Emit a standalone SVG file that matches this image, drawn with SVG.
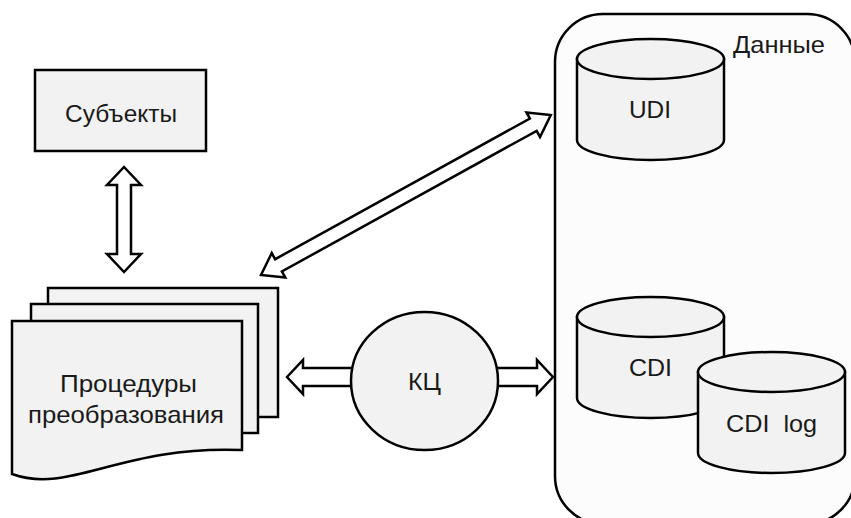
<svg xmlns="http://www.w3.org/2000/svg" width="851" height="518" viewBox="0 0 851 518">
<style>
.s{stroke:#000;stroke-width:2.5;stroke-linejoin:miter}
.f{fill:#f2f2f2}
.w{fill:#fff}
.t{font-family:"Liberation Sans",Arial,sans-serif;font-size:24px;fill:#1a1a1a;text-anchor:middle}
</style>
<rect width="851" height="518" fill="#fff"/>
<g id="data">
<rect class="s" x="555" y="14" width="300" height="510" rx="48" ry="48" fill="#fcfcfc"/>
<text class="t" x="779" y="53" textLength="92" lengthAdjust="spacingAndGlyphs">Данные</text>
</g>
<g id="connectors">
<polygon class="s w" points="124,167 141,185 131,185 131,254 141,254 124,272 107,254 117,254 117,185 107,185"/>
<polygon class="s w" transform="translate(261,275) rotate(-28.9)" points="0,0 20,-14 20,-7 311,-7 311,-14 331,0 311,14 311,7 20,7 20,14"/>
<polygon class="s w" points="287,377 303,360 303,368 360,368 360,386 303,386 303,394"/>
<polygon class="s w" points="553,377 537,360 537,368 490,368 490,386 537,386 537,394"/>
</g>
<g id="subjects">
<rect class="s f" x="35" y="70" width="171" height="81"/>
<text class="t" x="121" y="122" style="font-size:23px" textLength="112" lengthAdjust="spacingAndGlyphs">Субъекты</text>
</g>
<g id="procedures">
<rect class="s f" x="48" y="288" width="230" height="129"/>
<rect class="s f" x="31" y="304" width="227" height="129"/>
<path class="s f" d="M12,321 H242 V450 C120,445 70,495 12,474 Z"/>
<text class="t" x="128.5" y="392" textLength="137" lengthAdjust="spacingAndGlyphs">Процедуры</text>
<text class="t" x="126" y="423" textLength="196" lengthAdjust="spacingAndGlyphs">преобразования</text>
</g>
<g id="kc">
<ellipse class="s f" cx="424.5" cy="381" rx="73.5" ry="69"/>
<text class="t" x="424.5" y="390" textLength="33" lengthAdjust="spacingAndGlyphs">КЦ</text>
</g>
<g id="udi">
<path class="s f" d="M577,59 V140 A73.5,20 0 0 0 724,140 V59 Z"/>
<ellipse class="s f" cx="650.5" cy="59" rx="73.5" ry="20"/>
<text class="t" x="650" y="118" textLength="42" lengthAdjust="spacingAndGlyphs">UDI</text>
</g>
<g id="cdi">
<path class="s f" d="M577,317 V398 A73.5,20 0 0 0 724,398 V317 Z"/>
<ellipse class="s f" cx="650.5" cy="317" rx="73.5" ry="20"/>
<text class="t" x="650.5" y="376" textLength="43" lengthAdjust="spacingAndGlyphs">CDI</text>
</g>
<g id="cdilog">
<path class="s f" d="M698,372 V453 A73.5,20 0 0 0 845,453 V372 Z"/>
<ellipse class="s f" cx="771.5" cy="372" rx="73.5" ry="20"/>
<text class="t" x="771.5" y="432" xml:space="preserve" textLength="91" lengthAdjust="spacingAndGlyphs">CDI  log</text>
</g>
</svg>
